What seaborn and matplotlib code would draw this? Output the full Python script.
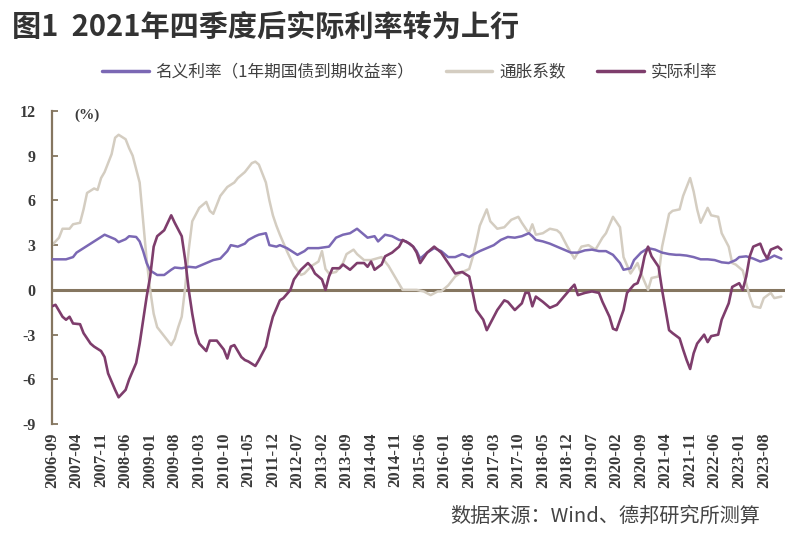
import matplotlib
matplotlib.use("Agg")
import matplotlib.pyplot as plt
import seaborn as sns
import pandas as pd
from matplotlib.lines import Line2D

# ---------------- data (month offset from 2006-09, value in %) ----------------
nominal_m = [0, 4, 6, 7, 9, 11, 13, 15, 16, 18, 19, 21, 22, 24, 25, 26, 27, 28, 30, 32, 34, 35, 37, 39, 41, 43, 44, 46, 48, 50,
             51, 53, 55, 56, 58, 59, 61, 62, 64, 65, 67, 69, 70, 72, 73, 76, 79, 81, 83, 85, 87, 88, 90, 92, 93, 95, 97, 99, 101, 103,
             104, 105, 107, 109, 111, 113, 115, 117, 119, 120, 122, 124, 126, 128, 130, 132, 134, 136, 137, 138, 140, 142, 144, 146, 148, 150, 152, 154, 156, 158,
             160, 162, 163, 165, 166, 168, 170, 172, 174, 176, 178, 179, 181, 183, 185, 187, 189, 191, 193, 195, 196, 198, 200, 202, 204, 206, 208]
nominal_v = [2.05, 2.05, 2.2, 2.5, 2.8, 3.1, 3.4, 3.7, 3.6, 3.4, 3.2, 3.4, 3.6, 3.55, 3.25, 2.6, 1.8, 1.3, 1.0, 1.0, 1.35, 1.5, 1.45, 1.55, 1.5, 1.7, 1.8, 2.0, 2.1, 2.6,
             3.0, 2.9, 3.1, 3.35, 3.6, 3.7, 3.8, 3.0, 2.9, 3.0, 2.8, 2.5, 2.35, 2.6, 2.8, 2.8, 2.9, 3.5, 3.7, 3.8, 4.1, 3.9, 3.5, 3.6, 3.25, 3.7, 3.6, 3.35, 3.25, 2.9,
             2.6, 2.1, 2.5, 2.8, 2.6, 2.2, 2.2, 2.4, 2.2, 2.35, 2.6, 2.8, 3.0, 3.35, 3.55, 3.5, 3.6, 3.8, 3.6, 3.35, 3.25, 3.1, 2.9, 2.7, 2.5, 2.5, 2.65, 2.7, 2.6, 2.6,
             2.35, 1.8, 1.35, 1.45, 2.0, 2.5, 2.8, 2.7, 2.5, 2.4, 2.35, 2.35, 2.3, 2.2, 2.05, 2.05, 2.0, 1.85, 1.8, 2.0, 2.2, 2.25, 2.1, 1.9, 2.05, 2.3, 2.1]

inflation_m = [0, 2, 3, 5, 6, 8, 9, 10, 12, 13, 14, 15, 17, 18, 19, 21, 22, 23, 25, 26, 27, 28, 29, 30, 32, 34, 35, 36, 37, 38,
               39, 40, 42, 44, 45, 46, 48, 50, 52, 53, 55, 57, 58, 59, 60, 61, 62, 63, 64, 65, 67, 69, 71, 72, 74, 76, 77, 78, 79, 81,
               83, 84, 86, 87, 89, 91, 94, 96, 98, 100, 102, 104, 106, 108, 110, 111, 113, 115, 117, 119, 120, 121, 122, 124, 125, 127, 129, 131, 133, 134,
               136, 137, 138, 140, 142, 144, 145, 147, 149, 151, 153, 155, 157, 158, 160, 162, 163, 165, 167, 168, 170, 171, 173, 174, 176, 177, 179, 180, 182, 183,
               184, 185, 187, 188, 190, 191, 193, 194, 195, 197, 199, 200, 202, 203, 205, 206, 208]
inflation_v = [3.0, 3.5, 4.1, 4.1, 4.4, 4.5, 5.4, 6.5, 6.8, 6.7, 7.5, 7.9, 9.1, 10.2, 10.4, 10.1, 9.5, 9.0, 7.2, 4.6, 2.0, 0.0, -1.6, -2.5, -3.1, -3.7, -3.3, -2.5, -1.8, 0.2,
               2.7, 4.6, 5.5, 5.9, 5.3, 5.1, 6.3, 6.9, 7.2, 7.5, 7.9, 8.5, 8.6, 8.4, 7.8, 7.2, 6.0, 5.0, 4.3, 3.7, 2.6, 1.6, 1.0, 1.1, 1.6, 1.9, 2.6, 1.4, 1.1, 1.2,
               1.8, 2.4, 2.7, 2.4, 2.0, 2.0, 2.2, 1.6, 0.8, 0.0, 0.0, 0.0, -0.1, -0.35, -0.1, -0.1, 0.3, 0.9, 1.2, 1.4, 2.2, 3.2, 4.3, 5.4, 4.6, 4.1, 4.2, 4.7, 4.9, 4.5,
               3.8, 4.4, 3.7, 3.8, 4.1, 4.0, 3.8, 2.9, 2.1, 2.9, 3.0, 2.7, 3.5, 3.8, 4.9, 4.2, 2.2, 1.1, 1.8, 1.1, 0.0, 0.8, 0.9, 2.9, 5.1, 5.3, 5.4, 6.3, 7.5, 6.6,
               5.4, 4.5, 5.5, 5.0, 4.9, 3.8, 2.9, 1.8, 1.7, 1.3, -0.45, -1.1, -1.2, -0.55, -0.2, -0.55, -0.45]

real_m = [0, 1, 3, 4, 5, 6, 8, 9, 11, 12, 14, 15, 16, 18, 19, 21, 22, 24, 25, 26, 27, 28, 29, 30, 32, 33, 34, 35, 37, 38,
          39, 40, 41, 42, 44, 45, 47, 49, 50, 51, 52, 54, 55, 56, 58, 59, 61, 62, 63, 65, 66, 68, 69, 71, 73, 74, 75, 77, 78, 79,
          80, 82, 83, 85, 87, 89, 90, 91, 92, 94, 95, 97, 99, 100, 102, 103, 104, 105, 107, 109, 111, 113, 115, 117, 119, 120, 121, 123, 124, 126,
          127, 129, 130, 132, 134, 135, 136, 137, 138, 140, 142, 144, 146, 148, 149, 150, 152, 154, 156, 157, 159, 160, 161, 163, 164, 166, 167, 168, 169, 170,
          171, 173, 174, 175, 176, 177, 179, 180, 181, 182, 183, 184, 186, 187, 188, 190, 191, 193, 194, 196, 197, 198, 199, 200, 202, 203, 204, 205, 207, 208]
real_v = [-1.1, -1.0, -1.8, -2.0, -1.8, -2.25, -2.3, -2.9, -3.6, -3.8, -4.1, -4.5, -5.6, -6.7, -7.2, -6.7, -6.0, -4.9, -3.6, -2.0, -0.45, 0.9, 2.9, 3.6, 4.0, 4.5, 5.0, 4.5, 3.6, 2.0,
          0.0, -1.6, -2.9, -3.6, -4.1, -3.4, -3.4, -4.0, -4.6, -3.8, -3.7, -4.5, -4.7, -4.8, -5.1, -4.7, -3.8, -2.7, -1.8, -0.7, -0.55, 0.0, 0.7, 1.35, 1.8, 1.55, 1.1, 0.7, 0.0, 0.9,
          1.45, 1.45, 1.7, 1.35, 1.8, 1.8, 1.55, 1.9, 1.35, 1.7, 2.25, 2.5, 2.9, 3.35, 3.1, 2.9, 2.5, 1.8, 2.5, 2.9, 2.5, 1.8, 1.1, 1.2, 0.9, -0.2, -1.35, -2.0, -2.7, -1.8,
          -1.35, -0.7, -0.8, -1.35, -0.9, -0.2, -0.2, -1.1, -0.45, -0.8, -1.2, -1.0, -0.45, 0.1, 0.35, -0.35, -0.2, -0.1, -0.2, -0.8, -1.8, -2.6, -2.7, -1.35, -0.2, 0.35, 0.45, 1.1, 2.25, 2.9,
          2.25, 1.55, 0.0, -1.35, -2.7, -2.9, -3.25, -4.0, -4.7, -5.3, -4.25, -3.6, -3.0, -3.5, -3.1, -3.0, -2.0, -0.9, 0.2, 0.45, 0.0, 0.9, 2.25, 2.9, 3.1, 2.5, 2.1, 2.7, 2.9, 2.7]

tick_labels = ["2006-09", "2007-04", "2007-11", "2008-06", "2009-01", "2009-08", "2010-03", "2010-10",
               "2011-05", "2011-12", "2012-07", "2013-02", "2013-09", "2014-04", "2014-11", "2015-06",
               "2016-01", "2016-08", "2017-03", "2017-10", "2018-05", "2018-12", "2019-07", "2020-02",
               "2020-09", "2021-04", "2021-11", "2022-06", "2023-01", "2023-08"]
y_ticks = [-9, -6, -3, 0, 3, 6, 9, 12]

series_names = ["名义利率（1年期国债到期收益率）", "通胀系数", "实际利率"]
title = "图1  2021年四季度后实际利率转为上行"
source = "数据来源：Wind、德邦研究所测算"

# ---------------- style ----------------
C_NOM = "#7b68b4"
C_INF = "#d4cdc1"
C_REAL = "#7e3d6c"
C_AXIS = "#857660"

sns.set_theme(style="white")
plt.rcParams["font.family"] = ["Noto Sans CJK SC", "DejaVu Sans"]
plt.rcParams["axes.unicode_minus"] = False

fig = plt.figure(figsize=(8, 5.41), dpi=100)
ax = fig.add_axes([0.065, 0.216, 0.916, 0.579])

df_nom = pd.DataFrame({"m": nominal_m, "v": nominal_v})
df_inf = pd.DataFrame({"m": inflation_m, "v": inflation_v})
df_real = pd.DataFrame({"m": real_m, "v": real_v})

ax.axhline(0, color=C_AXIS, lw=2.2, zorder=1.5)
sns.lineplot(data=df_inf, x="m", y="v", ax=ax, color=C_INF, lw=1.8, estimator=None, zorder=2)
sns.lineplot(data=df_nom, x="m", y="v", ax=ax, color=C_NOM, lw=1.8, estimator=None, zorder=3)
sns.lineplot(data=df_real, x="m", y="v", ax=ax, color=C_REAL, lw=1.9, estimator=None, zorder=4)

ax.set_xlim(0, 209)
ax.set_ylim(-9, 12)
ax.set_xlabel("")
ax.set_ylabel("")

for s in ["top", "right", "bottom"]:
    ax.spines[s].set_visible(False)
ax.spines["left"].set_color(C_AXIS)
ax.spines["left"].set_linewidth(1.6)

ax.set_yticks(y_ticks)
ax.set_yticklabels([str(t) for t in y_ticks], fontfamily="Liberation Serif",
                   fontweight="bold", fontsize=11.5, color="#3a3a3a")
ax.tick_params(axis="y", direction="in", length=4, width=1.3, colors=C_AXIS,
               labelcolor="#3a3a3a", pad=12, left=True)

tick_pos = [(int(t[:4]) - 2006) * 12 + int(t[5:]) - 9 for t in tick_labels]
ax.set_xticks(tick_pos)
ax.set_xticklabels(tick_labels, rotation=90, fontfamily="Liberation Serif",
                   fontweight="bold", fontsize=12, color="#3a3a3a")
ax.tick_params(axis="x", length=0, pad=6)

ax.text(0.031, 0.985, "(%)", transform=ax.transAxes, fontfamily="Liberation Serif",
        fontweight="bold", fontsize=11, va="center", ha="left", color="#3a3a3a")

handles = [Line2D([], [], color=C_NOM, lw=2.5),
           Line2D([], [], color=C_INF, lw=2.5),
           Line2D([], [], color=C_REAL, lw=2.5)]
leg = fig.legend(handles, series_names, loc="center", bbox_to_anchor=(0.512, 0.867),
                 ncol=3, frameon=False, fontsize=12, handlelength=2.8,
                 columnspacing=1.9, handletextpad=0.4)
for t in leg.get_texts():
    t.set_color("#404040")

fig.text(0.015, 0.95, title, fontsize=21, fontweight="bold", color="#333333",
         va="center", ha="left")
fig.text(0.95, 0.046, source, fontsize=14.5, color="#444444", va="center", ha="right")

fig.savefig("out.png", dpi=100)
